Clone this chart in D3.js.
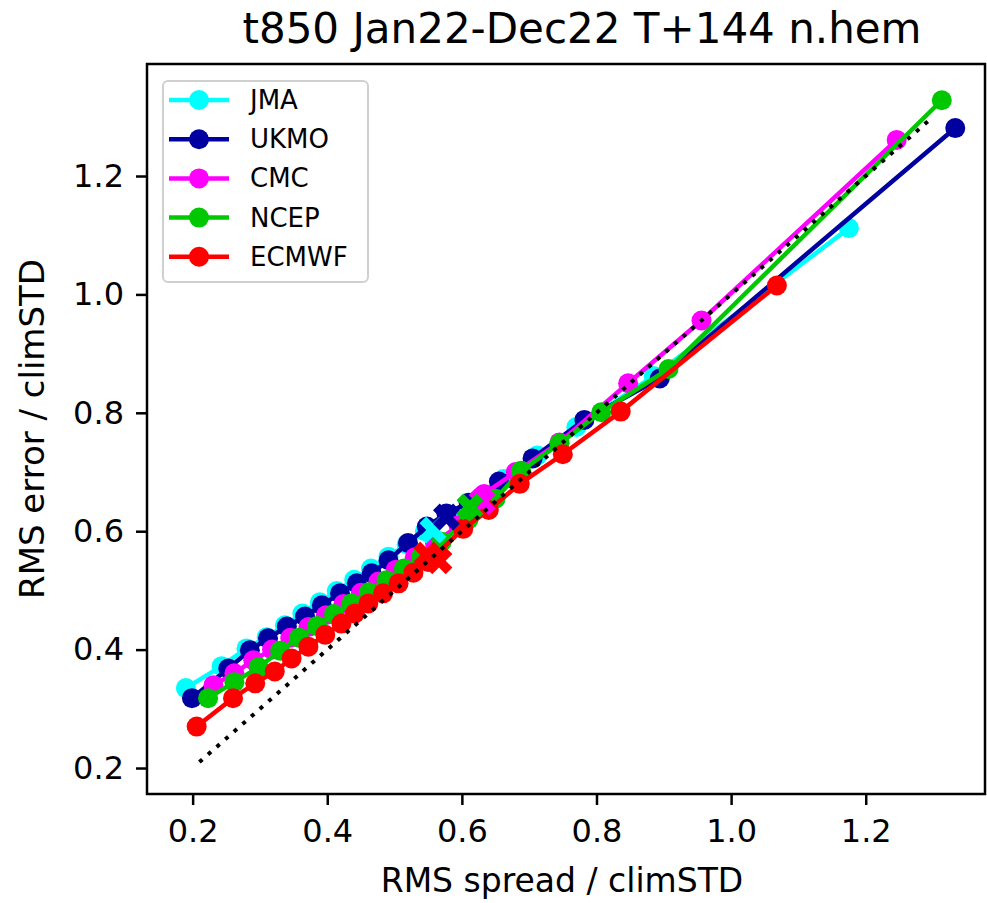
<!DOCTYPE html>
<html>
<head>
<meta charset="UTF-8">
<title>t850 spread error</title>
<script src="https://d3js.org/d3.v7.min.js"></script>
<style>
  body { margin: 0; background: #fff; }
  text { font-family: "DejaVu Sans", sans-serif; fill: #000; }
</style>
</head>
<body>
<div class="canvas"></div>
<script>
// models, in legend / drawing order
const models = ['JMA', 'UKMO', 'CMC', 'NCEP', 'ECMWF'];
const colors = ['#00ffff', '#0000a0', '#ff00ff', '#00c800', '#ff0000'];

// RMS spread / climSTD (x) and RMS error / climSTD (y), one pair per model
const jmaX   = [0.190, 0.243, 0.280, 0.310, 0.337, 0.363, 0.389, 0.414, 0.440, 0.465, 0.491, 0.518, 0.545, 0.583, 0.620, 0.662, 0.712, 0.770, 0.885, 1.175];
const jmaY   = [0.335, 0.372, 0.402, 0.421, 0.441, 0.461, 0.480, 0.499, 0.518, 0.537, 0.557, 0.578, 0.600, 0.628, 0.650, 0.688, 0.728, 0.776, 0.862, 1.112];
const ukmoX  = [0.199, 0.253, 0.285, 0.312, 0.340, 0.367, 0.392, 0.419, 0.444, 0.466, 0.491, 0.520, 0.548, 0.577, 0.610, 0.655, 0.705, 0.782, 0.894, 1.333];
const ukmoY  = [0.318, 0.368, 0.399, 0.419, 0.439, 0.456, 0.475, 0.495, 0.512, 0.529, 0.551, 0.580, 0.608, 0.630, 0.648, 0.684, 0.723, 0.788, 0.858, 1.281];
const cmcX   = [0.231, 0.262, 0.290, 0.318, 0.345, 0.372, 0.398, 0.424, 0.450, 0.476, 0.502, 0.530, 0.560, 0.595, 0.633, 0.680, 0.745, 0.847, 0.956, 1.246];
const cmcY   = [0.340, 0.360, 0.382, 0.400, 0.420, 0.438, 0.458, 0.477, 0.496, 0.515, 0.535, 0.556, 0.580, 0.610, 0.663, 0.700, 0.750, 0.850, 0.956, 1.261];
const ncepX  = [0.223, 0.262, 0.298, 0.330, 0.358, 0.385, 0.410, 0.436, 0.462, 0.488, 0.514, 0.540, 0.570, 0.610, 0.650, 0.688, 0.745, 0.807, 0.907, 1.313];
const ncepY  = [0.318, 0.345, 0.370, 0.398, 0.420, 0.440, 0.460, 0.478, 0.497, 0.517, 0.537, 0.557, 0.582, 0.620, 0.655, 0.702, 0.748, 0.801, 0.874, 1.328];
const ecmwfX = [0.206, 0.260, 0.293, 0.322, 0.347, 0.372, 0.397, 0.421, 0.441, 0.461, 0.483, 0.506, 0.528, 0.550, 0.602, 0.640, 0.686, 0.750, 0.836, 1.068];
const ecmwfY = [0.270, 0.318, 0.343, 0.363, 0.385, 0.405, 0.425, 0.444, 0.461, 0.478, 0.495, 0.512, 0.530, 0.548, 0.604, 0.636, 0.680, 0.730, 0.802, 1.015];

// cross markers: model index, spread, error
const crossModel = [0, 1, 2, 3, 4, 4];
const crossX     = [0.557, 0.577, 0.630, 0.612, 0.548, 0.566];
const crossY     = [0.602, 0.624, 0.650, 0.641, 0.560, 0.550];

// one-to-one reference line
const diagX = [0.21, 1.30];
const diagY = [0.21, 1.30];

const xTicks = [0.2, 0.4, 0.6, 0.8, 1.0, 1.2];
const yTicks = [0.2, 0.4, 0.6, 0.8, 1.0, 1.2];

const seriesX = [jmaX, ukmoX, cmcX, ncepX, ecmwfX];
const seriesY = [jmaY, ukmoY, cmcY, ncepY, ecmwfY];

const width = 987, height = 903;
const [mt, mb, ml, mr] = [64, 109, 147, 2];   // frame 147..985 x 64..794
const graphWidth = width - ml - mr;
const graphHeight = height - mt - mb;

const svg = d3.select('.canvas').append('svg')
  .attr('width', width)
  .attr('height', height);

const x = d3.scaleLinear().domain([0.1322, 1.3772]).range([0, graphWidth]);
const y = d3.scaleLinear().domain([0.1561, 1.3892]).range([graphHeight, 0]);

const graph = svg.append('g').attr('transform', `translate(${ml}, ${mt})`);

svg.append('clipPath').attr('id', 'clip')
  .append('rect').attr('width', graphWidth).attr('height', graphHeight);
const plot = graph.append('g').attr('clip-path', 'url(#clip)');

const line = d3.line().x(d => x(d[0])).y(d => y(d[1]));
const cross = d3.symbol().type(d3.symbolCross).size(450);

models.forEach((m, i) => {
  const pts = seriesX[i].map((v, j) => [v, seriesY[i][j]]);
  plot.append('path')
    .attr('d', line(pts))
    .attr('fill', 'none')
    .attr('stroke', colors[i])
    .attr('stroke-width', 4.5);
  plot.selectAll(null).data(pts).enter()
    .append('circle')
    .attr('cx', d => x(d[0]))
    .attr('cy', d => y(d[1]))
    .attr('r', 10)
    .attr('fill', colors[i]);
});

// cross markers over the lines
crossModel.forEach((k, j) => {
  plot.append('path')
    .attr('d', cross())
    .attr('transform', `translate(${x(crossX[j])}, ${y(crossY[j])}) rotate(45)`)
    .attr('fill', colors[k]);
});

// dotted diagonal on top
plot.append('path')
  .attr('d', line(diagX.map((v, j) => [v, diagY[j]])))
  .attr('fill', 'none')
  .attr('stroke', '#000')
  .attr('stroke-width', 4)
  .attr('stroke-dasharray', '4 7.5');

// axes
const xAxis = d3.axisBottom(x).tickValues(xTicks).tickFormat(d3.format('.1f'))
  .tickSize(11).tickPadding(14);
const yAxis = d3.axisLeft(y).tickValues(yTicks).tickFormat(d3.format('.1f'))
  .tickSize(11).tickPadding(12);

const xAxisG = graph.append('g').attr('transform', `translate(0, ${graphHeight})`).call(xAxis);
const yAxisG = graph.append('g').call(yAxis);
[xAxisG, yAxisG].forEach(g => {
  g.select('.domain').remove();
  g.selectAll('line').attr('stroke', '#000').attr('stroke-width', 2.5);
  g.selectAll('text').style('font-size', '32px').attr('fill', '#000');
});

// frame
graph.append('rect')
  .attr('width', graphWidth).attr('height', graphHeight)
  .attr('fill', 'none').attr('stroke', '#000').attr('stroke-width', 2.5);

// labels
svg.append('text')
  .attr('x', 582).attr('y', 43)
  .attr('text-anchor', 'middle').style('font-size', '42px')
  .text('t850 Jan22-Dec22 T+144 n.hem');
svg.append('text')
  .attr('x', 562).attr('y', 892)
  .attr('text-anchor', 'middle').style('font-size', '33px')
  .text('RMS spread / climSTD');
svg.append('text')
  .attr('transform', `translate(44, ${mt + graphHeight / 2}) rotate(-90)`)
  .attr('text-anchor', 'middle').style('font-size', '34px')
  .text('RMS error / climSTD');

// legend
const legend = svg.append('g').attr('transform', 'translate(163, 81)');
legend.append('rect')
  .attr('width', 205).attr('height', 201).attr('rx', 5)
  .attr('fill', '#fff').attr('fill-opacity', 0.8)
  .attr('stroke', '#d0d0d0').attr('stroke-width', 2);
models.forEach((m, i) => {
  const row = legend.append('g').attr('transform', `translate(0, ${19 + i * 39.2})`);
  row.append('line').attr('x1', 6).attr('x2', 66)
    .attr('stroke', colors[i]).attr('stroke-width', 4.5);
  row.append('circle').attr('cx', 36).attr('r', 10).attr('fill', colors[i]);
  row.append('text').attr('x', 87).attr('y', 9).style('font-size', '26px').text(m);
});
</script>
</body>
</html>
